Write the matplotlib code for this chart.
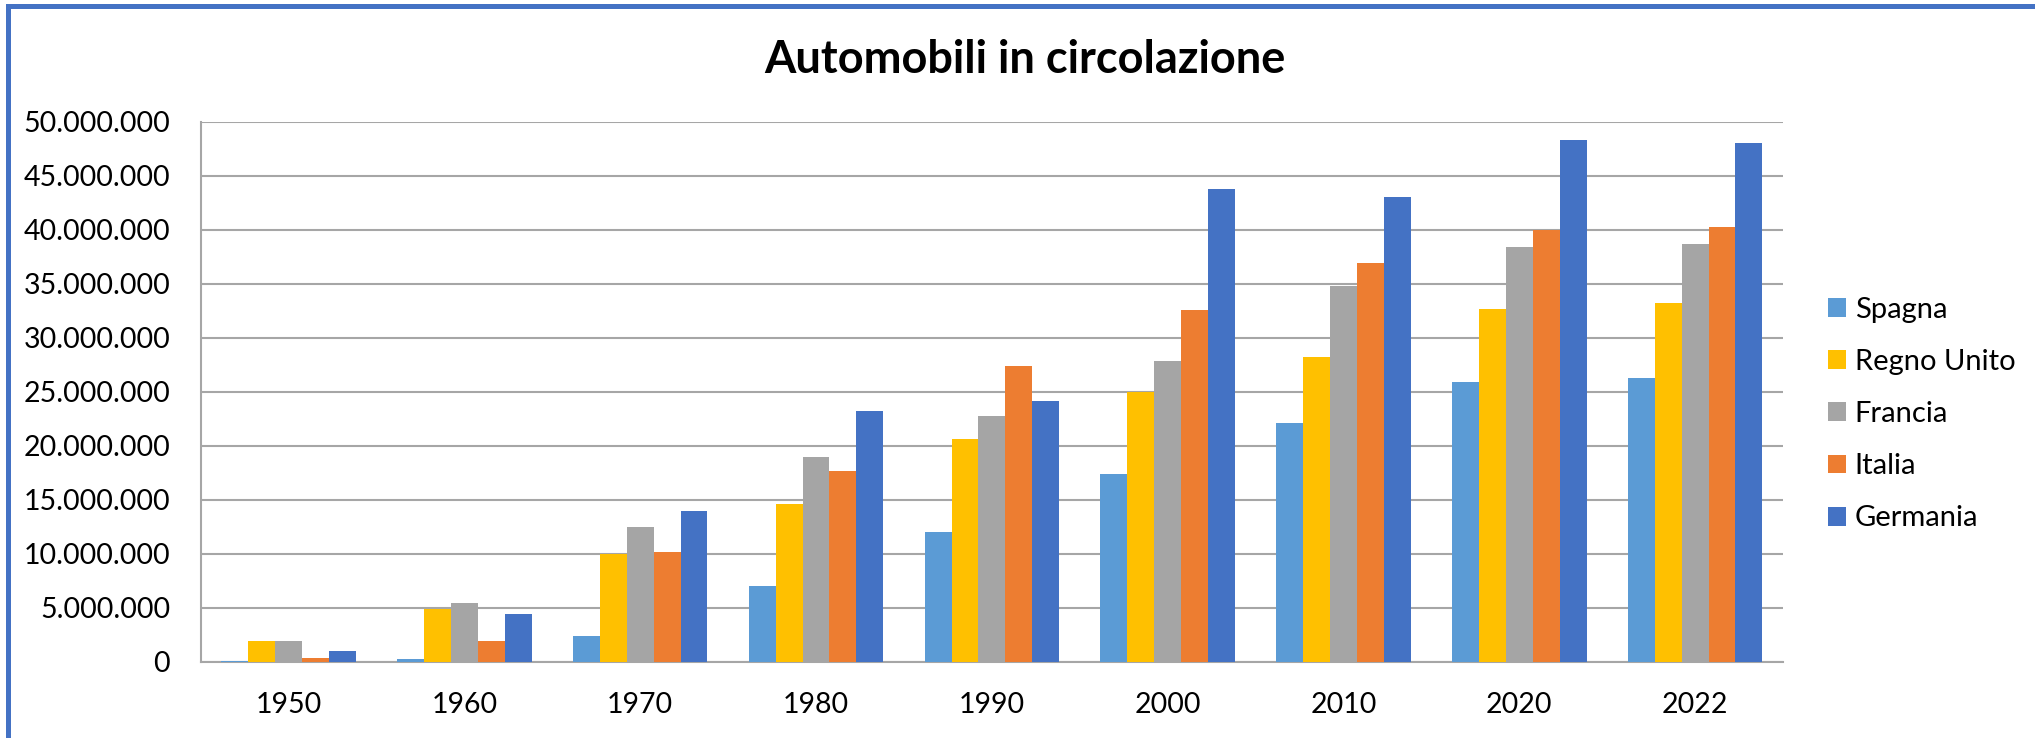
import numpy as np
import matplotlib
matplotlib.use('Agg')
import matplotlib.pyplot as plt
from matplotlib.lines import Line2D

plt.rcParams['font.family'] = ['Lato', 'DejaVu Sans']

# dati
anni = ['1950', '1960', '1970', '1980', '1990', '2000', '2010', '2020', '2022']
paesi = ['Spagna', 'Regno Unito', 'Francia', 'Italia', 'Germania']
spagna = [50_000, 270_000, 2_360_000, 7_010_000, 12_000_000, 17_340_000, 22_060_000, 25_920_000, 26_230_000]
regno_unito = [1_950_000, 4_900_000, 9_990_000, 14_640_000, 20_660_000, 25_000_000, 28_180_000, 32_660_000, 33_170_000]
francia = [1_950_000, 5_470_000, 12_480_000, 18_980_000, 22_780_000, 27_840_000, 34_780_000, 38_410_000, 38_710_000]
italia = [340_000, 1_950_000, 10_190_000, 17_680_000, 27_390_000, 32_560_000, 36_940_000, 40_010_000, 40_250_000]
germania = [960_000, 4_450_000, 13_950_000, 23_190_000, 24_110_000, 43_740_000, 43_060_000, 48_260_000, 48_050_000]
serie = [spagna, regno_unito, francia, italia, germania]
colori = ['#5B9BD5', '#FFC000', '#A5A5A5', '#ED7D31', '#4472C4']

W, H = 2035, 738
fig = plt.figure(figsize=(W / 100, H / 100), dpi=100)
ax = fig.add_axes([200.7 / W, 1 - 661.7 / H, (1783 - 200.7) / W, (661.7 - 121.7) / H])

x = np.arange(len(anni))
bw = 0.153
for i, (vals, nome, c) in enumerate(zip(serie, paesi, colori)):
    ax.bar(x + (i - 2) * bw, vals, width=bw, color=c, label=nome, zorder=3)

ax.set_xlim(-0.5, len(anni) - 0.5)
ax.set_ylim(0, 50_000_000)
yt = np.arange(0, 50_000_001, 5_000_000)
ax.set_yticks(yt)
ax.set_yticklabels([f'{int(v):,}'.replace(',', '.') for v in yt])
ax.set_xticks(x)
ax.set_xticklabels(anni)
ax.tick_params(axis='both', length=0, labelsize=20.5, colors='black')
ax.tick_params(axis='y', pad=22)
ax.tick_params(axis='x', pad=22)
ax.grid(axis='y', color='#A6A6A6', linewidth=1.5, zorder=0)
for s in ['top', 'right']:
    ax.spines[s].set_visible(False)
ax.spines['left'].set_color('#A6A6A6')
ax.spines['left'].set_linewidth(1.5)
ax.spines['bottom'].set_color('#A6A6A6')
ax.spines['bottom'].set_linewidth(1.5)

fig.text(1025 / W, 1 - 60 / H, 'Automobili in circolazione', ha='center', va='center',
         fontsize=32.5, fontweight='bold')

fig.legend(loc='center left', bbox_to_anchor=(1828 / W, 1 - 414 / H), frameon=False,
           fontsize=21, handlelength=0.62, handleheight=0.62, handletextpad=0.3,
           labelspacing=0.9, borderpad=0, borderaxespad=0)

# cornice blu del grafico
bc = '#4472C4'
fig.add_artist(Line2D([8 / W, 8 / W], [1 - 6 / H, 1 - 740 / H], color=bc, lw=3.6, solid_capstyle='projecting'))
fig.add_artist(Line2D([8 / W, 2037 / W], [1 - 6 / H, 1 - 6 / H], color=bc, lw=3.6, solid_capstyle='projecting'))
fig.add_artist(Line2D([8 / W, 2037 / W], [1 - 740 / H, 1 - 740 / H], color=bc, lw=3.6))
fig.add_artist(Line2D([2037 / W, 2037 / W], [1 - 6 / H, 1 - 740 / H], color=bc, lw=3.6))

fig.savefig('out.png', dpi=100)
